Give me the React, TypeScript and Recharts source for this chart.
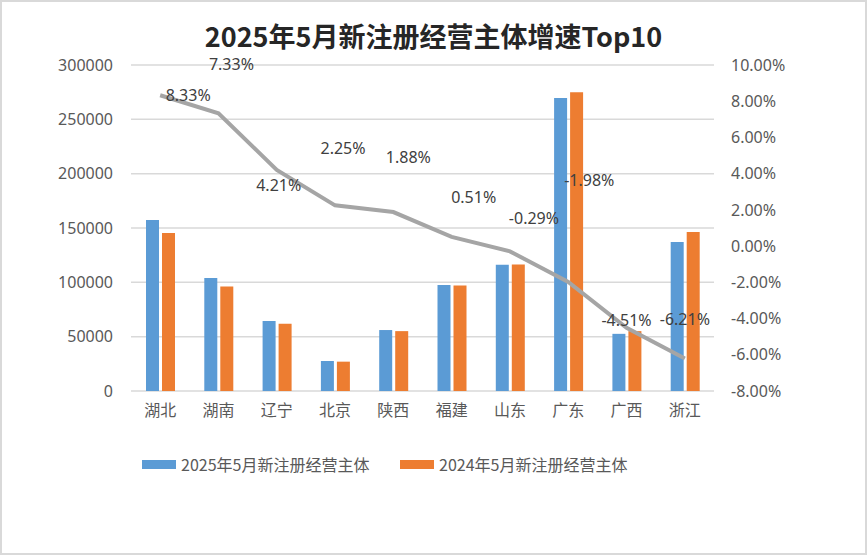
import React from "react";
import {
  Bar,
  CartesianGrid,
  ComposedChart,
  Legend,
  Line,
  XAxis,
  YAxis,
} from "recharts";

const provinces = ["湖北", "湖南", "辽宁", "北京", "陕西", "福建", "山东", "广东", "广西", "浙江"];
const reg2025 = [157400, 104000, 64400, 27600, 56100, 97500, 116200, 269600, 52600, 137200];
const reg2024 = [145300, 96100, 61800, 27000, 55100, 97000, 116500, 275000, 55100, 146300];
const growth = [8.33, 7.33, 4.21, 2.25, 1.88, 0.51, -0.29, -1.98, -4.51, -6.21];
const leftTicks = [0, 50000, 100000, 150000, 200000, 250000, 300000];
const rightTicks = [-8, -6, -4, -2, 0, 2, 4, 6, 8, 10];

const name2025 = "2025年5月新注册经营主体";
const name2024 = "2024年5月新注册经营主体";

// hand-placed label offsets, like the excel original
const labelOffsets: Array<[number, number]> = [
  [28, 0], [13, -49], [2, 15], [8, -57], [15, -55],
  [22, -40], [24, -33], [21, -102], [0, -8], [0, -40],
];

const data = provinces.map((p, i) => ({
  name: p,
  a: reg2025[i],
  b: reg2024[i],
  g: growth[i],
}));

const FONT = '"Noto Sans", "Noto Sans CJK SC", sans-serif';
const CJK = '"Noto Sans CJK SC", "Noto Sans", sans-serif';

function GrowthLabel(props: any) {
  const { x, y, index, value } = props;
  const [dx, dy] = labelOffsets[index] || [0, -10];
  return (
    <text
      x={x + dx}
      y={y + dy}
      textAnchor="middle"
      dominantBaseline="central"
      fontSize={16}
      fontFamily={FONT}
      fill="#404040"
    >
      {Number(value).toFixed(2)}%
    </text>
  );
}

function LegendBox() {
  const item = (left: number, color: string, label: string) => (
    <div style={{ position: "absolute", left, top: 0, display: "flex", alignItems: "center" }}>
      <div style={{ width: 34, height: 9, background: color, marginRight: 5 }} />
      <span style={{ fontSize: 16, fontFamily: CJK, color: "#595959", whiteSpace: "nowrap" }}>{label}</span>
    </div>
  );
  return (
    <div style={{ position: "relative", height: 24 }}>
      {item(142, "#5b9bd5", name2025)}
      {item(400, "#ed7d31", name2024)}
    </div>
  );
}

export default function App() {
  return (
    <div
      style={{
        position: "absolute",
        left: 0,
        top: 0,
        width: 867,
        height: 555,
        border: "2px solid #d9d9d9",
        boxSizing: "border-box",
        background: "#fff",
      }}
    >
      <div
        style={{
          position: "absolute",
          left: 0,
          top: 17,
          width: 863,
          textAlign: "center",
          fontFamily: CJK,
          fontWeight: 700,
          fontSize: 27,
          color: "#262626",
          lineHeight: "34px",
        }}
      >
        2025年5月新注册经营主体增速Top10
      </div>
      <div style={{ position: "absolute", left: -2, top: -2 }}>
        <ComposedChart
          width={867}
          height={555}
          data={data}
          margin={{ top: 65, right: 0, left: 0, bottom: 110 }}
          barSize={13}
          barGap={3}
        >
          <CartesianGrid yAxisId="left" vertical={false} stroke="#d9d9d9" strokeWidth={1.5} />
          <XAxis
            dataKey="name"
            axisLine={false}
            tickLine={false}
            height={30}
            tickMargin={8}
            tick={{ fontSize: 16, fontFamily: CJK, fill: "#595959" }}
          />
          <YAxis
            yAxisId="left"
            width={131}
            domain={[0, 300000]}
            ticks={leftTicks}
            axisLine={false}
            tickLine={false}
            tickMargin={12}
            tick={{ fontSize: 16, fontFamily: FONT, fill: "#595959" }}
          />
          <YAxis
            yAxisId="right"
            orientation="right"
            width={153}
            domain={[-8, 10]}
            ticks={rightTicks}
            axisLine={false}
            tickLine={false}
            tickMargin={11}
            tickFormatter={(v: number) => `${v.toFixed(2)}%`}
            tick={{ fontSize: 16, fontFamily: FONT, fill: "#595959", textAnchor: "start" }}
          />
          <Legend verticalAlign="bottom" wrapperStyle={{ top: 452, left: 0, width: 867 }} content={() => <LegendBox />} />
          <Bar yAxisId="left" dataKey="a" name={name2025} fill="#5b9bd5" isAnimationActive={false} />
          <Bar yAxisId="left" dataKey="b" name={name2024} fill="#ed7d31" isAnimationActive={false} />
          <Line
            yAxisId="right"
            dataKey="g"
            type="linear"
            stroke="#a5a5a5"
            strokeWidth={4}
            dot={false}
            activeDot={false}
            isAnimationActive={false}
            label={<GrowthLabel />}
          />
        </ComposedChart>
      </div>
    </div>
  );
}
